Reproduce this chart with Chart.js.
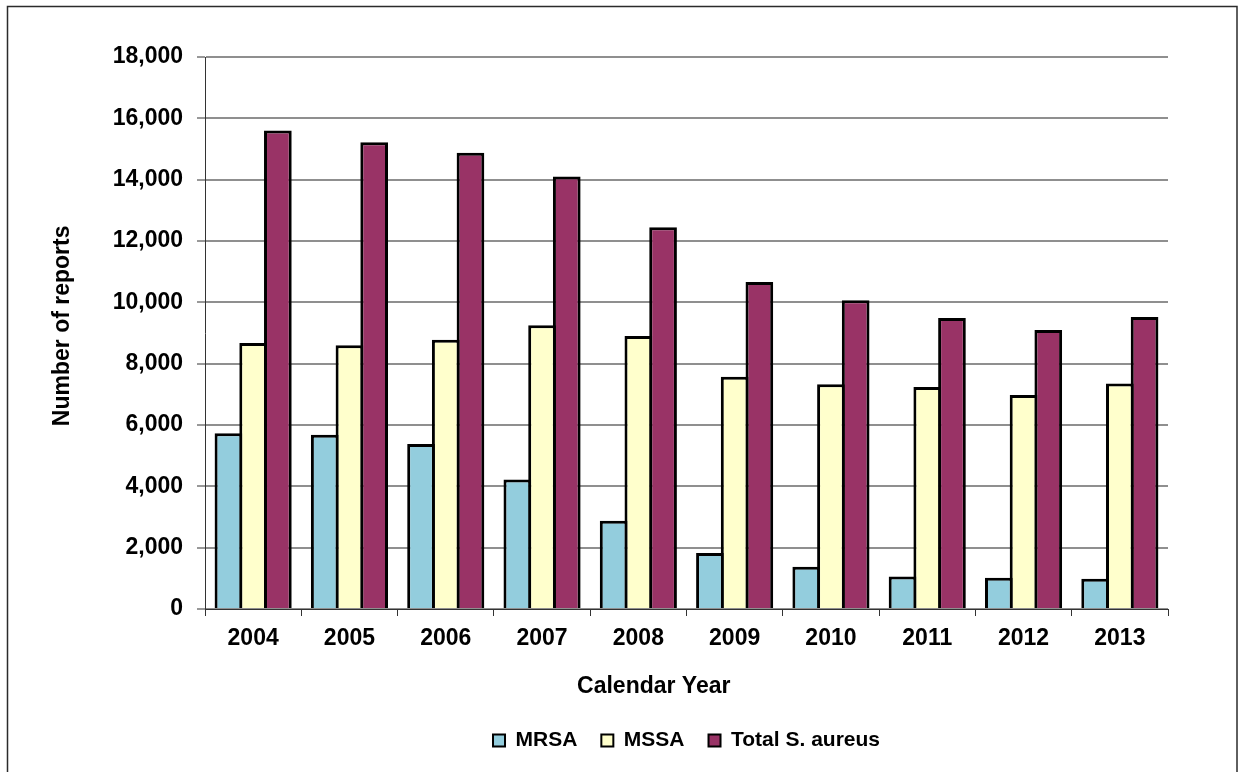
<!DOCTYPE html>
<html>
<head>
<meta charset="utf-8">
<script src="https://cdn.jsdelivr.net/npm/chart.js@4.4.1/dist/chart.umd.min.js"></script>
<style>
  html, body { margin: 0; padding: 0; background: #ffffff; }
  #wrap { width: 1244px; height: 772px; position: relative; }
</style>
</head>
<body>
<div id="wrap"><canvas id="chart" width="1244" height="772"></canvas></div>
<script>
// Staphylococcus aureus reports per calendar year
const years = ['2004', '2005', '2006', '2007', '2008', '2009', '2010', '2011', '2012', '2013'];
const mrsa = [5730, 5680, 5380, 4220, 2880, 1830, 1380, 1060, 1020, 990];
const mssa = [8670, 8600, 8780, 9250, 8900, 7570, 7330, 7240, 6980, 7350];
const totalSA = [15600, 15220, 14880, 14100, 12450, 10660, 10070, 9490, 9100, 9520];

const seriesNames = ['MRSA', 'MSSA', 'Total S. aureus'];
const seriesColors = ['#93CDDD', '#FFFFCC', '#993366'];

const yMin = 0;
const yMax = 18000;
const yStep = 2000;

const xTitle = 'Calendar Year';
const yTitle = 'Number of reports';

const FONT = "'Liberation Sans', Arial, Helvetica, sans-serif";

// Frame around the whole figure plus the two axis titles
const decorations = {
  id: 'decorations',
  afterDraw(chart) {
    const ctx = chart.ctx;
    const area = chart.chartArea;
    ctx.save();
    ctx.strokeStyle = '#2b2b2b';
    ctx.lineWidth = 1.5;
    ctx.strokeRect(7.5, 6.5, 1229.5, 790);

    ctx.fillStyle = '#000000';
    ctx.font = 'bold 23px ' + FONT;
    ctx.textAlign = 'center';
    ctx.textBaseline = 'middle';
    ctx.fillText(xTitle, area.left + area.width * 0.466, area.bottom + 78);

    ctx.translate(63, area.top + area.height * 0.487);
    ctx.rotate(-Math.PI / 2);
    ctx.fillText(yTitle, 0, 0);
    ctx.restore();
  }
};

// Bars are slightly wider than their slots so neighbours share one outline
const datasets = [mrsa, mssa, totalSA].map((values, i) => ({
  label: seriesNames[i],
  data: values,
  backgroundColor: seriesColors[i],
  borderColor: '#000000',
  borderWidth: 3,
  borderSkipped: 'bottom',
  categoryPercentage: 0.77,
  barPercentage: 1.12
}));

new Chart(document.getElementById('chart'), {
  type: 'bar',
  data: { labels: years, datasets: datasets },
  plugins: [decorations],
  options: {
    responsive: false,
    animation: false,
    devicePixelRatio: 1,
    layout: { padding: { top: 57, right: 76, bottom: 11, left: 0 } },
    plugins: {
      tooltip: { enabled: false },
      title: { display: false },
      legend: {
        position: 'bottom',
        fullSize: false,
        labels: {
          color: '#000000',
          font: { family: FONT, size: 21, weight: 'bold' },
          boxWidth: 12,
          boxHeight: 12,
          padding: 24,
          generateLabels(chart) {
            const items = Chart.defaults.plugins.legend.labels.generateLabels(chart);
            items.forEach(it => { it.lineWidth = 2; it.strokeStyle = '#000000'; });
            return items;
          }
        }
      }
    },
    scales: {
      x: {
        offset: true,
        afterFit(scale) { scale.height = 97; },
        grid: {
          display: true,
          drawOnChartArea: false,
          drawTicks: true,
          tickLength: 7,
          tickColor: '#333333',
          tickWidth: 1,
          offset: true
        },
        border: { display: true, color: '#333333', width: 1 },
        ticks: {
          color: '#000000',
          font: { family: FONT, size: 23, weight: 'bold' },
          padding: 9,
          maxRotation: 0,
          autoSkip: false
        }
      },
      y: {
        min: yMin,
        max: yMax,
        afterFit(scale) { scale.width = 205; },
        grid: {
          color: '#8f8f8f',
          lineWidth: 2,
          drawTicks: true,
          tickLength: 8,
          tickColor: '#333333',
          tickWidth: 1
        },
        border: { display: true, color: '#333333', width: 1 },
        ticks: {
          stepSize: yStep,
          color: '#000000',
          font: { family: FONT, size: 23, weight: 'bold' },
          padding: 14,
          callback: (v) => Number(v).toLocaleString('en-US')
        }
      }
    }
  }
});
</script>
</body>
</html>
